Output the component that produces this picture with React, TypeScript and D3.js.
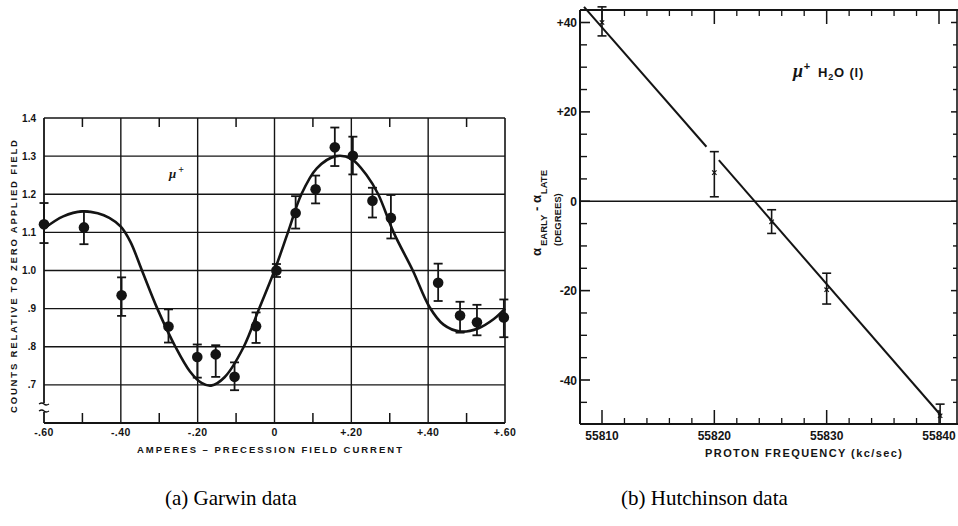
import React from "react";
import * as d3 from "d3";

// ---------- Panel (a): Garwin data ----------
const garwinX = [-0.6, -0.496, -0.398, -0.276, -0.201, -0.153, -0.104, -0.048, 0.005, 0.055, 0.107, 0.157, 0.204, 0.255, 0.303, 0.426, 0.483, 0.527, 0.597];
const garwinY = [1.121, 1.113, 0.935, 0.853, 0.773, 0.78, 0.721, 0.854, 1.0, 1.151, 1.213, 1.323, 1.301, 1.183, 1.138, 0.968, 0.882, 0.864, 0.877];
const garwinHi = [1.177, 1.155, 0.982, 0.898, 0.806, 0.804, 0.759, 0.89, 1.017, 1.195, 1.249, 1.375, 1.351, 1.217, 1.198, 1.018, 0.918, 0.91, 0.924];
const garwinLo = [1.072, 1.069, 0.881, 0.811, 0.719, 0.721, 0.686, 0.81, 0.983, 1.11, 1.176, 1.274, 1.252, 1.139, 1.084, 0.92, 0.837, 0.83, 0.825];

const fitAX = [-0.6, -0.55, -0.5, -0.46, -0.43, -0.4, -0.375, -0.345, -0.305, -0.258, -0.22, -0.19, -0.165, -0.13, -0.08, -0.04, 0.0, 0.035, 0.07, 0.11, 0.16, 0.2, 0.24, 0.27, 0.31, 0.36, 0.403, 0.44, 0.483, 0.53, 0.57, 0.6];
const fitAY = [1.11, 1.142, 1.155, 1.15, 1.138, 1.115, 1.075, 1.0, 0.9, 0.8, 0.735, 0.705, 0.698, 0.72, 0.8, 0.9, 1.0, 1.1, 1.2, 1.268, 1.3, 1.293, 1.25, 1.2, 1.1, 1.0, 0.905, 0.858, 0.84, 0.848, 0.872, 0.9];

const aXTickVals = [-0.6, -0.4, -0.2, 0, 0.2, 0.4, 0.6];
const aXTickLabels = ["-.60", "-.40", "-.20", "0", "+.20", "+.40", "+.60"];
const aMinorX = [-0.5, -0.3, -0.1, 0.1, 0.3, 0.5];
const aYTickVals = [0.7, 0.8, 0.9, 1.0, 1.1, 1.2, 1.3, 1.4];
const aYTickLabels = [".7", ".8", ".9", "1.0", "1.1", "1.2", "1.3", "1.4"];

// ---------- Panel (b): Hutchinson data ----------
const hutchX = [55810, 55820, 55825.1, 55830, 55840.1];
const hutchY = [40, 6.4, -4.6, -19.8, -48];
const hutchHi = [43.5, 11.1, -1.9, -16.1, -45.4];
const hutchLo = [37, 1.0, -7.2, -23.0, -49.8];

const fitBSeg1X = [55808.4, 55819.3];
const fitBSeg1Y = [43.5, 12.2];
const fitBSeg2X = [55820.4, 55840.2];
const fitBSeg2Y = [9.2, -48.0];

const bXMajor = [55810, 55820, 55830, 55840];
const bXMajorLabels = ["55810", "55820", "55830", "55840"];
const bXMinor = [55812, 55814, 55816, 55818, 55822, 55824, 55826, 55828, 55832, 55834, 55836, 55838];
const bYMajor = [-40, -20, 0, 20, 40];
const bYMajorLabels = ["-40", "-20", "0", "+20", "+40"];
const bYMinor = [-45, -35, -30, -25, -15, -10, -5, 5, 10, 15, 25, 30, 35];

const INK = "#141414";
const SANS = "'Liberation Sans', Arial, sans-serif";
const SERIF = "'Liberation Serif', 'DejaVu Serif', serif";

export default function App() {
  const xA = d3.scaleLinear().domain([-0.6, 0.6]).range([44, 505]);
  const yA = d3.scaleLinear().domain([0.6, 1.4]).range([423, 118]);
  const lineA = d3
    .line<number>()
    .x((_, i) => xA(fitAX[i]))
    .y((d) => yA(d))
    .curve(d3.curveCatmullRom.alpha(0.5));

  const xB = d3.scaleLinear().domain([55810, 55840]).range([602, 939]);
  const yB = d3.scaleLinear().domain([-40, 40]).range([380, 22.5]);
  const bLeft = 580;
  const bRight = 957;
  const bTop = 10;
  const bBottom = 424;
  const segLine = d3
    .line<[number, number]>()
    .x((d) => xB(d[0]))
    .y((d) => yB(d[1]));
  const seg1: [number, number][] = fitBSeg1X.map((x, i) => [x, fitBSeg1Y[i]]);
  const seg2: [number, number][] = fitBSeg2X.map((x, i) => [x, fitBSeg2Y[i]]);

  const aLeft = xA(-0.6);
  const aRight = xA(0.6);
  const aTop = yA(1.4);
  const aBottom = yA(0.6);

  return (
    <svg
      width={958}
      height={526}
      viewBox="0 0 958 526"
      style={{ position: "absolute", left: 0, top: 0, background: "#fff" }}
    >
      <rect x={0} y={0} width={958} height={526} fill="#fff" />

      {/* ================= Panel A ================= */}
      <g>
        {aYTickVals.slice(0, 7).map((v) => (
          <line key={"hg" + v} x1={aLeft} x2={aRight} y1={yA(v)} y2={yA(v)} stroke={INK} strokeWidth={1.4} />
        ))}
        {aXTickVals.slice(1, 6).map((v) => (
          <line key={"vg" + v} x1={xA(v)} x2={xA(v)} y1={aTop} y2={aBottom} stroke={INK} strokeWidth={1.4} />
        ))}
        <line x1={aLeft} x2={aRight} y1={aTop} y2={aTop} stroke={INK} strokeWidth={1.6} />
        <line x1={aLeft} x2={aRight} y1={aBottom} y2={aBottom} stroke={INK} strokeWidth={1.8} />
        <line x1={aRight} x2={aRight} y1={aTop} y2={aBottom} stroke={INK} strokeWidth={1.6} />
        <line x1={aLeft} x2={aLeft} y1={aTop} y2={403} stroke={INK} strokeWidth={1.8} />
        <line x1={aLeft} x2={aLeft} y1={412} y2={aBottom} stroke={INK} strokeWidth={1.8} />
        <path d="M39,404 q3,-2 5,0 t5,0" fill="none" stroke={INK} strokeWidth={1.3} />
        <path d="M39,411 q3,-2 5,0 t5,0" fill="none" stroke={INK} strokeWidth={1.3} />
        {aMinorX.map((v) => (
          <g key={"mt" + v}>
            <line x1={xA(v)} x2={xA(v)} y1={aTop} y2={aTop + 9} stroke={INK} strokeWidth={1.5} />
            <line x1={xA(v)} x2={xA(v)} y1={aBottom} y2={aBottom - 10} stroke={INK} strokeWidth={1.5} />
          </g>
        ))}
        {aXTickVals.map((v, i) => (
          <text key={"xl" + v} x={xA(v)} y={436} textAnchor="middle" fontFamily={SANS} fontWeight="bold" fontSize={10.5} letterSpacing={0.4} fill={INK}>
            {aXTickLabels[i]}
          </text>
        ))}
        {aYTickVals.map((v, i) => (
          <text key={"yl" + v} x={36} y={yA(v) + 3.5} textAnchor="end" fontFamily={SANS} fontWeight="bold" fontSize={10} fill={INK}>
            {aYTickLabels[i]}
          </text>
        ))}
        <text x={137} y={453} fontFamily={SANS} fontWeight="bold" fontSize={9.5} fill={INK} textLength={265} lengthAdjust="spacing">
          AMPERES –  PRECESSION  FIELD  CURRENT
        </text>
        <text
          transform="translate(17,413) rotate(-90)"
          x={0}
          y={0}
          fontFamily={SANS}
          fontWeight="bold"
          fontSize={9.5}
          fill={INK}
          textLength={273}
          lengthAdjust="spacing"
        >
          COUNTS  RELATIVE  TO  ZERO  APPLIED  FIELD
        </text>
        <text x={169} y={178} fontFamily={SERIF} fontStyle="italic" fontWeight="bold" fontSize={13} fill={INK}>
          μ
          <tspan dy={-5} dx={2} fontSize={10} fontStyle="normal">
            +
          </tspan>
        </text>
        <path d={lineA(fitAY) || ""} fill="none" stroke={INK} strokeWidth={2.6} />
        {garwinX.map((x, i) => (
          <g key={"gp" + i}>
            <line x1={xA(x)} x2={xA(x)} y1={yA(garwinHi[i])} y2={yA(garwinLo[i])} stroke={INK} strokeWidth={1.8} />
            <line x1={xA(x) - 4.5} x2={xA(x) + 4.5} y1={yA(garwinHi[i])} y2={yA(garwinHi[i])} stroke={INK} strokeWidth={1.8} />
            <line x1={xA(x) - 4.5} x2={xA(x) + 4.5} y1={yA(garwinLo[i])} y2={yA(garwinLo[i])} stroke={INK} strokeWidth={1.8} />
            <circle cx={xA(x)} cy={yA(garwinY[i])} r={5.3} fill={INK} />
          </g>
        ))}
      </g>

      {/* ================= Panel B ================= */}
      <g>
        <line x1={bLeft} x2={bRight + 2} y1={bTop} y2={bTop} stroke={INK} strokeWidth={1.8} />
        <line x1={bLeft} x2={bRight + 2} y1={bBottom} y2={bBottom} stroke={INK} strokeWidth={2} />
        <line x1={bLeft} x2={bLeft} y1={bTop} y2={bBottom} stroke={INK} strokeWidth={2} />
        <line x1={bRight} x2={bRight} y1={bTop} y2={bBottom} stroke={INK} strokeWidth={1.6} />
        <line x1={bLeft} x2={bRight} y1={yB(0)} y2={yB(0)} stroke={INK} strokeWidth={1.5} />
        {bXMajor.map((v) => (
          <g key={"bxM" + v}>
            <line x1={xB(v)} x2={xB(v)} y1={bBottom} y2={bBottom - 14} stroke={INK} strokeWidth={1.5} />
            <line x1={xB(v)} x2={xB(v)} y1={bTop} y2={bTop + 14} stroke={INK} strokeWidth={1.5} />
          </g>
        ))}
        {bXMinor.map((v) => (
          <g key={"bxm" + v}>
            <line x1={xB(v)} x2={xB(v)} y1={bBottom} y2={bBottom - 6} stroke={INK} strokeWidth={1.3} />
            <line x1={xB(v)} x2={xB(v)} y1={bTop} y2={bTop + 6} stroke={INK} strokeWidth={1.3} />
          </g>
        ))}
        {bYMajor.map((v) => (
          <g key={"byM" + v}>
            <line x1={bLeft} x2={bLeft + 10} y1={yB(v)} y2={yB(v)} stroke={INK} strokeWidth={1.6} />
            <line x1={bRight} x2={bRight - 6} y1={yB(v)} y2={yB(v)} stroke={INK} strokeWidth={1.5} />
          </g>
        ))}
        {bYMinor.map((v) => (
          <g key={"bym" + v}>
            <line x1={bLeft} x2={bLeft + 7} y1={yB(v)} y2={yB(v)} stroke={INK} strokeWidth={1.4} />
            <line x1={bRight} x2={bRight - 4} y1={yB(v)} y2={yB(v)} stroke={INK} strokeWidth={1.4} />
          </g>
        ))}
        {bXMajor.map((v, i) => (
          <text key={"bxl" + v} x={xB(v)} y={440} textAnchor="middle" fontFamily={SANS} fontWeight="bold" fontSize={12} fill={INK}>
            {bXMajorLabels[i]}
          </text>
        ))}
        {bYMajor.map((v, i) => (
          <text key={"byl" + v} x={577} y={yB(v) + 4.5} textAnchor="end" fontFamily={SANS} fontWeight="bold" fontSize={12} fill={INK}>
            {bYMajorLabels[i]}
          </text>
        ))}
        <text x={705} y={457} fontFamily={SANS} fontWeight="bold" fontSize={11} fill={INK} textLength={197} lengthAdjust="spacing">
          PROTON  FREQUENCY (kc/sec)
        </text>
        <g transform="translate(541,256) rotate(-90)">
          <text x={0} y={0} fontFamily={SANS} fontWeight="bold" fontSize={13} fill={INK}>
            α
            <tspan dx={2} dy={6} fontSize={9.5}>EARLY</tspan>
            <tspan dy={-6} fontSize={13}> - α</tspan>
            <tspan dx={1} dy={6} fontSize={9.5}>LATE</tspan>
          </text>
          <text x={10} y={20} fontFamily={SANS} fontWeight="bold" fontSize={9.5} fill={INK}>
            (DEGREES)
          </text>
        </g>
        <text x={793} y={77} fontFamily={SANS} fontWeight="bold" fontSize={13} letterSpacing={0.8} fill={INK}>
          <tspan fontFamily={SERIF} fontStyle="italic" fontSize={18}>μ</tspan>
          <tspan dy={-7} fontSize={11}>+</tspan>
          <tspan dy={7} dx={7} fontSize={13}>H</tspan>
          <tspan dy={3} fontSize={9}>2</tspan>
          <tspan dy={-3} fontSize={13}>O  (l)</tspan>
        </text>
        <path d={segLine(seg1) || ""} fill="none" stroke={INK} strokeWidth={2} />
        <path d={segLine(seg2) || ""} fill="none" stroke={INK} strokeWidth={2} />
        {hutchX.map((x, i) => (
          <g key={"hp" + i}>
            <line x1={xB(x)} x2={xB(x)} y1={yB(hutchHi[i])} y2={yB(hutchLo[i])} stroke={INK} strokeWidth={1.6} />
            <line x1={xB(x) - 4.5} x2={xB(x) + 4.5} y1={yB(hutchHi[i])} y2={yB(hutchHi[i])} stroke={INK} strokeWidth={1.6} />
            <line x1={xB(x) - 4.5} x2={xB(x) + 4.5} y1={yB(hutchLo[i])} y2={yB(hutchLo[i])} stroke={INK} strokeWidth={1.6} />
            <path
              d={`M${xB(x) - 2.2},${yB(hutchY[i]) - 2.2}L${xB(x) + 2.2},${yB(hutchY[i]) + 2.2}M${xB(x) - 2.2},${yB(hutchY[i]) + 2.2}L${xB(x) + 2.2},${yB(hutchY[i]) - 2.2}`}
              stroke={INK}
              strokeWidth={1.2}
            />
          </g>
        ))}
      </g>

      {/* ================= Captions ================= */}
      <text x={165} y={505} fontFamily={SERIF} fontSize={21} fill="#000">
        (a) Garwin data
      </text>
      <text x={621} y={505} fontFamily={SERIF} fontSize={21} fill="#000">
        (b) Hutchinson data
      </text>
    </svg>
  );
}
